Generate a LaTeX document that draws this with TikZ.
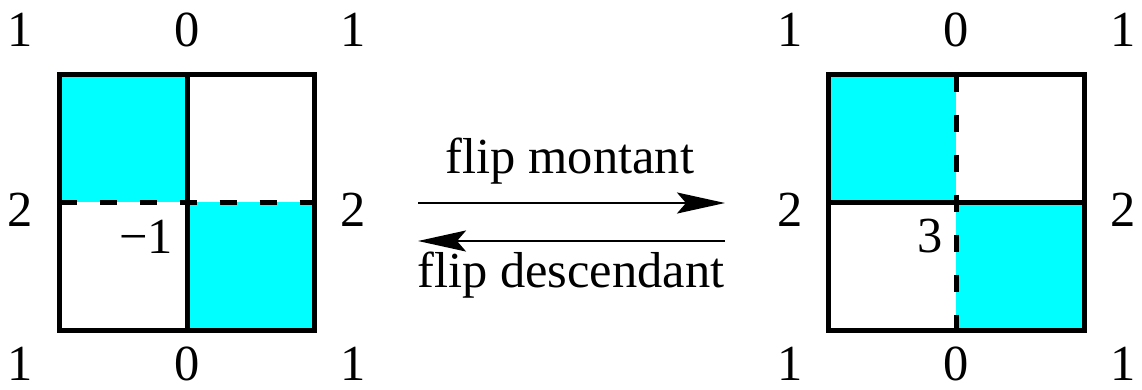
\documentclass[tikz,border=0pt]{standalone}
\usepackage{fontspec}
\setmainfont{Liberation Serif}
\usetikzlibrary{arrows.meta}
\definecolor{cellcyan}{RGB}{0,255,255}
\begin{document}
\begin{tikzpicture}[x=1pt,y=-1pt,
  lbl/.style={font=\fontsize{50.5}{60}\selectfont, inner sep=0pt, anchor=base},
  cell/.style={fill=cellcyan, draw=none},
  border/.style={line width=5pt, line join=miter},
  solidline/.style={line width=5pt},
  dashline/.style={line width=5pt, dash pattern=on 17pt off 23pt},
  arr/.style={line width=2.5pt, -{Stealth[length=48pt,width=21pt,inset=9pt]}}]
\useasboundingbox (0,0) rectangle (1142,389);

% ---------- left square ----------
\fill[cell] (59.5,74.5) rectangle (187,202);
\fill[cell] (187,202) rectangle (314.5,330.5);
\draw[solidline] (187,74.5) -- (187,330.5);
\draw[dashline] (59.5,202) -- (314.5,202);
\draw[border] (59.5,74.5) rectangle (314.5,330.5);

\node[lbl] (L11) at (20,46) {1};
\node[lbl] (L12) at (187,46) {0};
\node[lbl] (L13) at (353,46) {1};
\node[lbl] (L21) at (20,226) {2};
\node[lbl] (L23) at (353,226) {2};
\node[lbl] (L31) at (20,380) {1};
\node[lbl] (L32) at (187,380) {0};
\node[lbl] (L33) at (353,380) {1};
\node[lbl, anchor=base east] (Lc) at (173,253) {−1};

% ---------- right square ----------
\fill[cell] (828.5,74.5) rectangle (956,202);
\fill[cell] (956,202) rectangle (1084.5,330.5);
\draw[solidline] (828.5,202) -- (1084.5,202);
\draw[dashline] (956,74.5) -- (956,330.5);
\draw[border] (828.5,74.5) rectangle (1084.5,330.5);

\node[lbl] (R11) at (790,46) {1};
\node[lbl] (R12) at (956,46) {0};
\node[lbl] (R13) at (1123,46) {1};
\node[lbl] (R21) at (790,226) {2};
\node[lbl] (R23) at (1123,226) {2};
\node[lbl] (R31) at (790,380) {1};
\node[lbl] (R32) at (956,380) {0};
\node[lbl] (R33) at (1123,380) {1};
\node[lbl, anchor=base east] (Rc) at (943,252) {3};

% ---------- arrows ----------
\coordinate (a1s) at (418,203);
\coordinate (a1e) at (725,203);
\coordinate (a2s) at (725,241);
\coordinate (a2e) at (418,241);
\draw[arr] (a1s) -- (a1e);
\draw[arr] (a2s) -- (a2e);
\node[lbl] (up) at (570,173) {flip montant};
\node[lbl] (down) at (571,287) {flip descendant};
\end{tikzpicture}
\end{document}
